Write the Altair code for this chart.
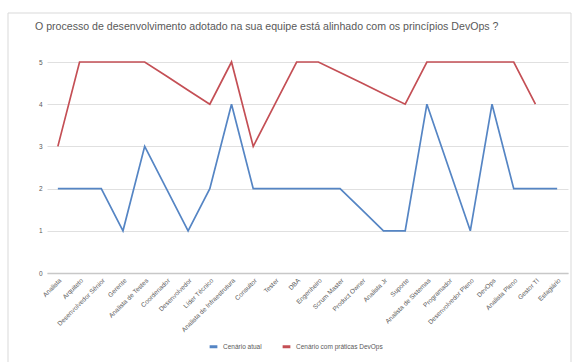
import altair as alt
import pandas as pd

categories = [
    "Analista", "Arquiteto", "Desenvolvedor Sênior", "Gerente", "Analista de Testes",
    "Coordenador", "Desenvolvedor", "Líder Técnico", "Analista de Infraestrutura", "Consultor",
    "Tester", "DBA", "Engenheiro", "Scrum Master", "Product Owner",
    "Analista Jr", "Suporte", "Analista de Sistemas", "Programador", "Desenvolvedor Pleno",
    "DevOps", "Analista Pleno", "Gestor TI", "Estagiário",
]
series_names = ["Cenário atual", "Cenário com práticas DevOps"]
atual = [2, 2, 2, 1, 3, 2, 1, 2, 4, 2, 2, 2, 2, 2, 1.5, 1, 1, 4, 2.5, 1, 4, 2, 2, 2]
devops = [3, 5, 5, 5, 5, 4.67, 4.33, 4, 5, 3, 4, 5, 5, 4.75, 4.5, 4.25, 4, 5, 5, 5, 5, 5, 4, None]
y_ticks = [0, 1, 2, 3, 4, 5]
title_text = "O processo de desenvolvimento adotado na sua equipe está alinhado com os princípios DevOps ?"

rows = []
for i, c in enumerate(categories):
    rows.append({"cat": c, "serie": series_names[0], "valor": atual[i]})
    rows.append({"cat": c, "serie": series_names[1], "valor": devops[i]})
df = pd.DataFrame(rows)

W, H = 521, 211

lines = alt.Chart(df).transform_filter("isValid(datum.valor)").mark_line(strokeWidth=1.7).encode(
    x=alt.X("cat:N", sort=categories, title=None,
            scale=alt.Scale(type="point", padding=0.5),
            axis=alt.Axis(labelAngle=-45, labelFontSize=6.5, labelColor="#595959",
                          labelFont="Liberation Sans", ticks=False, grid=False,
                          domainColor="#c8c8c8", domainWidth=1.5, labelPadding=4,
                          labelLimit=200)),
    y=alt.Y("valor:Q", title=None,
            scale=alt.Scale(domain=[0, 5], nice=False),
            axis=alt.Axis(values=y_ticks, labelFontSize=6.5, labelColor="#595959",
                          labelFont="Liberation Sans", ticks=False, domain=False,
                          gridColor="#e0e0e0", labelPadding=5)),
    color=alt.Color("serie:N", sort=series_names,
                    scale=alt.Scale(domain=series_names, range=["#5585c4", "#c44f55"]),
                    legend=alt.Legend(title=None, orient="none", direction="horizontal",
                                      legendX=161, legendY=279, symbolType="stroke",
                                      symbolStrokeWidth=3, symbolSize=60,
                                      labelFontSize=6.5, labelColor="#595959",
                                      labelFont="Liberation Sans", columnPadding=14)),
    detail="serie:N",
)

base1 = alt.Chart(pd.DataFrame({"a": [0]}))

border = base1.mark_rect(fill=None, stroke="#d9d9d9", strokeWidth=1).encode(
    x=alt.value(-39), x2=alt.value(524), y=alt.value(-49), y2=alt.value(305)
)

title = base1.mark_text(
    align="left", baseline="middle", fontSize=10.6, color="#595959", font="Liberation Sans"
).encode(x=alt.value(-12), y=alt.value(-35), text=alt.value(title_text))

chart = alt.layer(border, title, lines).properties(
    width=W, height=H,
    autosize=alt.AutoSizeParams(type="none"),
    padding={"left": 47, "top": 62, "right": 11, "bottom": 89},
).configure_view(stroke=None)

chart.save("out.html", embed_options={"renderer": "svg", "actions": False})
